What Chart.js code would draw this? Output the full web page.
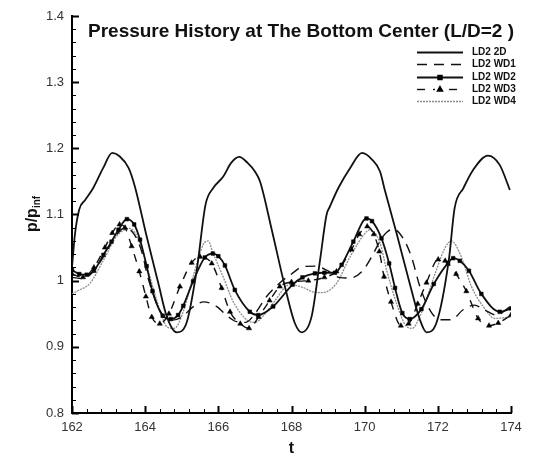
<!DOCTYPE html>
<html><head><meta charset="utf-8">
<script src="https://cdn.jsdelivr.net/npm/chart.js@4/dist/chart.umd.min.js"></script>
<style>html,body{margin:0;padding:0;background:#fff}#wrap{width:536px;height:455px}</style>
</head><body><div id="wrap"><canvas id="c" width="536" height="455"></canvas></div>
<script>
const chartTitle = 'Pressure History at The Bottom Center (L/D=2 )';
const xTitle = 't';
const yTitleMain = 'p/p';
const yTitleSub = 'inf';
const xTicks = [162,164,166,168,170,172,174];
const yTicks = [0.8,0.9,1.0,1.1,1.2,1.3,1.4];
const seriesNames = ['LD2 2D','LD2 WD1','LD2 WD2','LD2 WD3','LD2 WD4'];

const t2D = [162.0,162.08,162.2,162.36,162.58,162.85,163.1,163.3,163.55,163.72,164.04,164.36,164.59,164.86,165.13,165.41,165.65,165.86,166.13,166.35,166.57,166.8,167.0,167.14,167.46,167.82,168.09,168.28,168.55,168.78,168.96,169.05,169.28,169.6,169.93,170.2,170.42,170.55,170.87,171.23,171.51,171.69,171.96,172.3,172.46,172.7,172.96,173.37,173.69,173.97];
const p2D = [1.02,1.07,1.108,1.122,1.14,1.17,1.193,1.188,1.17,1.142,1.067,0.996,0.946,0.922,0.936,1.016,1.115,1.14,1.157,1.178,1.187,1.178,1.165,1.15,1.077,0.991,0.936,0.922,0.946,1.031,1.1,1.112,1.14,1.17,1.193,1.183,1.165,1.137,1.072,0.996,0.941,0.922,0.936,1.031,1.11,1.14,1.167,1.189,1.175,1.137];

const tWD1 = [162.0,162.3,162.6,162.9,163.2,163.45,163.7,163.9,164.1,164.4,164.7,165.0,165.3,165.6,165.95,166.22,166.5,166.75,167.0,167.32,167.73,168.0,168.3,168.64,168.96,169.3,169.6,169.96,170.19,170.5,170.78,171.05,171.28,171.51,171.78,172.05,172.37,172.69,173.0,173.3,173.6,174.0];
const pWD1 = [1.005,1.003,1.015,1.04,1.068,1.08,1.07,1.045,1.0,0.955,0.94,0.945,0.96,0.968,0.961,0.948,0.938,0.937,0.95,0.976,0.999,1.01,1.021,1.022,1.016,1.005,1.004,1.016,1.036,1.067,1.078,1.064,1.036,0.991,0.956,0.941,0.941,0.956,0.963,0.955,0.948,0.962];

const tWD2 = [162.0,162.2,162.4,162.6,162.86,163.08,163.27,163.5,163.7,163.86,164.04,164.2,164.48,164.7,164.9,165.04,165.31,165.63,165.85,166.0,166.18,166.45,166.86,167.09,167.5,168.03,168.3,168.64,168.9,169.19,169.37,169.69,170.05,170.2,170.46,170.67,170.83,171.03,171.23,171.55,171.89,172.28,172.42,172.6,172.85,173.19,173.69,174.0];
const pWD2 = [1.016,1.010,1.009,1.015,1.039,1.059,1.077,1.093,1.085,1.062,1.022,0.984,0.947,0.942,0.948,0.962,0.999,1.035,1.041,1.037,1.023,0.986,0.953,0.948,0.961,0.994,1.005,1.011,1.012,1.012,1.024,1.059,1.094,1.09,1.064,1.026,0.989,0.951,0.942,0.957,0.995,1.027,1.034,1.03,1.015,0.98,0.953,0.958];

const tWD3 = [162.0,162.3,162.6,162.9,163.1,163.3,163.45,163.63,163.84,164.02,164.18,164.4,164.65,164.95,165.27,165.5,165.82,166.09,166.32,166.6,166.84,167.1,167.4,167.68,168.0,168.46,168.9,169.23,169.64,169.85,170.07,170.25,170.4,170.53,170.72,170.99,171.2,171.45,171.69,172.01,172.2,172.5,172.78,173.1,173.4,173.65,174.0];
const pWD3 = [1.01,1.005,1.02,1.05,1.072,1.085,1.08,1.052,1.014,0.976,0.945,0.935,0.95,0.991,1.027,1.036,1.026,0.989,0.953,0.935,0.928,0.945,0.97,0.991,0.998,1.0,1.005,1.014,1.047,1.07,1.082,1.07,1.044,1.006,0.968,0.932,0.935,0.965,0.997,1.032,1.03,1.01,0.984,0.943,0.932,0.936,0.948];

const tWD4 = [162.0,162.13,162.49,162.86,163.22,163.58,163.86,164.13,164.4,164.6,164.8,165.05,165.31,165.59,165.72,165.86,166.13,166.41,166.77,167.0,167.25,167.5,167.96,168.3,168.59,168.85,169.23,169.6,170.05,170.15,170.42,170.6,170.87,171.14,171.3,171.51,171.96,172.2,172.37,172.64,172.92,173.24,173.56,174.0];
const pWD4 = [0.98,0.984,0.996,1.031,1.067,1.079,1.057,1.006,0.956,0.93,0.928,0.955,1.006,1.055,1.06,1.041,1.006,0.968,0.941,0.937,0.948,0.966,0.994,0.99,0.983,0.982,0.996,1.036,1.074,1.077,1.057,1.016,0.966,0.931,0.928,0.946,1.016,1.05,1.06,1.036,0.991,0.961,0.943,0.945];

const FONT = "'Liberation Sans', Arial, sans-serif";
const pts = (t, p) => t.map((x, i) => ({x: x, y: p[i]}));

const base = {fill:false, cubicInterpolationMode:'monotone', pointRadius:0, pointHoverRadius:0};
const datasets = [
  Object.assign({}, base, {label: seriesNames[0], data: pts(t2D, p2D), borderColor:'#111', borderWidth:1.8}),
  Object.assign({}, base, {label: seriesNames[1], data: pts(tWD1, pWD1), borderColor:'#111', borderWidth:1.4, borderDash:[10,7]}),
  Object.assign({}, base, {label: seriesNames[2], data: pts(tWD2, pWD2), borderColor:'#111', borderWidth:1.8, pointStyle:'rect', pointRadius:2.6, pointBackgroundColor:'#000', pointBorderColor:'#000', pointBorderWidth:0.5}),
  Object.assign({}, base, {label: seriesNames[3], data: pts(tWD3, pWD3), borderColor:'#111', borderWidth:1.4, borderDash:[8,8], pointStyle:'triangle', pointRadius:3, pointBackgroundColor:'#000', pointBorderColor:'#000', pointBorderWidth:0.5}),
  Object.assign({}, base, {label: seriesNames[4], data: pts(tWD4, pWD4), borderColor:'#8c8c8c', borderWidth:1.3, borderDash:[2,1]})
];

const decor = {
  id: 'decor',
  afterDraw(chart) {
    const ctx = chart.ctx, xs = chart.scales.x, ys = chart.scales.y, ca = chart.chartArea;
    ctx.save();
    ctx.strokeStyle = '#000';
    const xMin = xs.min, xStep = 0.4, nx = Math.round((xs.max - xs.min) / xStep);
    for (let i = 0; i <= nx; i++) {
      const v = xMin + i * xStep;
      const px = Math.round(xs.getPixelForValue(v)) + 0.5;
      const major = i % 5 === 0;
      ctx.lineWidth = major ? 2 : 1;
      ctx.beginPath(); ctx.moveTo(px, ca.bottom); ctx.lineTo(px, ca.bottom - (major ? 7 : 4)); ctx.stroke();
    }
    const yMin = ys.min, yStep = 0.02, ny = Math.round((ys.max - ys.min) / yStep);
    for (let i = 0; i <= ny; i++) {
      const v = yMin + i * yStep;
      const py = Math.round(ys.getPixelForValue(v)) + 0.5;
      const major = i % 5 === 0;
      ctx.lineWidth = major ? 2 : 1;
      ctx.beginPath(); ctx.moveTo(ca.left, py); ctx.lineTo(ca.left + (major ? 7 : 4), py); ctx.stroke();
    }
    ctx.fillStyle = '#111';
    ctx.font = 'bold 19px ' + FONT;
    ctx.textAlign = 'left'; ctx.textBaseline = 'alphabetic';
    ctx.fillText(chartTitle, 88, 37);
    ctx.font = 'bold 16px ' + FONT;
    ctx.textAlign = 'center';
    ctx.fillText(xTitle, (ca.left + ca.right) / 2, 453);
    ctx.save();
    ctx.translate(37, 214);
    ctx.rotate(-Math.PI / 2);
    ctx.font = 'bold 16px ' + FONT;
    const w1 = ctx.measureText(yTitleMain).width;
    ctx.font = 'bold 10px ' + FONT;
    const w2 = ctx.measureText(yTitleSub).width;
    const start = -(w1 + w2) / 2;
    ctx.textAlign = 'left';
    ctx.font = 'bold 16px ' + FONT;
    ctx.fillText(yTitleMain, start, 0);
    ctx.font = 'bold 10px ' + FONT;
    ctx.fillText(yTitleSub, start + w1, 3);
    ctx.restore();
    chart.data.datasets.forEach((ds, i) => {
      const y = Math.round(52 + i * 12.3) + 0.5;
      const x1 = 417, x2 = 463;
      ctx.save();
      ctx.strokeStyle = ds.borderColor;
      ctx.lineWidth = ds.borderWidth;
      ctx.setLineDash(ds.borderDash || []);
      ctx.beginPath(); ctx.moveTo(x1, y); ctx.lineTo(x2, y); ctx.stroke();
      ctx.setLineDash([]);
      if (ds.pointRadius > 0) {
        const cx = (x1 + x2) / 2;
        ctx.fillStyle = '#fff';
        if (ds.pointStyle === 'triangle') { ctx.fillRect(cx - 5, y - 2, 10, 4); }
        ctx.fillStyle = '#000'; ctx.strokeStyle = '#000';
        ctx.beginPath();
        Chart.helpers.drawPoint(ctx, {pointStyle: ds.pointStyle, radius: ds.pointRadius, rotation: 0, borderWidth: 0.5}, cx, y);
      }
      ctx.fillStyle = '#111';
      ctx.font = 'bold 10px ' + FONT;
      ctx.textAlign = 'left'; ctx.textBaseline = 'middle';
      ctx.fillText(ds.label, 472, y);
      ctx.restore();
    });
    ctx.restore();
  }
};

new Chart(document.getElementById('c'), {
  type: 'line',
  data: {datasets: datasets},
  options: {
    responsive: false, animation: false, devicePixelRatio: 1,
    layout: {padding: {left: 0, top: 16, right: 25, bottom: 0}},
    plugins: {legend: {display: false}, tooltip: {enabled: false}, title: {display: false}},
    scales: {
      x: {
        type: 'linear', min: 162, max: 174,
        afterBuildTicks: s => { s.ticks = xTicks.map(v => ({value: v})); },
        afterFit: s => { s.height = 42; },
        grid: {display: false},
        border: {display: true, color: '#000', width: 2},
        ticks: {font: {family: FONT, size: 13}, color: '#333', padding: -1, maxRotation: 0, autoSkip: false, callback: v => String(v)}
      },
      y: {
        type: 'linear', min: 0.8, max: 1.4,
        afterBuildTicks: s => { s.ticks = yTicks.map(v => ({value: v})); },
        afterFit: s => { s.width = 72; },
        grid: {display: false},
        border: {display: true, color: '#000', width: 2},
        ticks: {font: {family: FONT, size: 13}, color: '#333', padding: 0, autoSkip: false, callback: v => String(parseFloat(Number(v).toFixed(2)))}
      }
    }
  },
  plugins: [decor]
});
</script>
</body></html>
